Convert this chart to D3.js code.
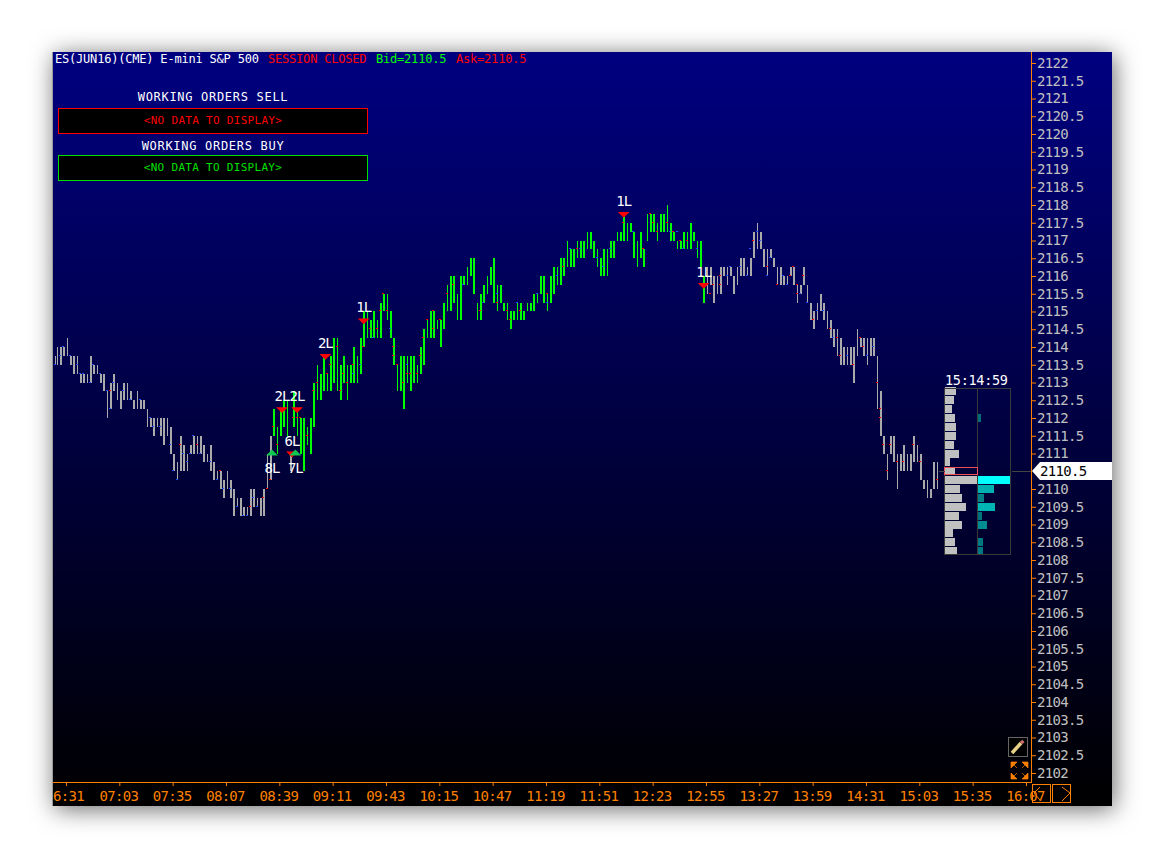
<!DOCTYPE html>
<html>
<head>
<meta charset="utf-8">
<script src="https://cdn.jsdelivr.net/npm/d3@7"></script>
<style>
  html, body { margin: 0; background: #fff; }
  text { font-family: "DejaVu Sans Mono", monospace; }
</style>
</head>
<body>
<div id="graph"></div>
<script>
// 2110.5 is not here, the last price flag covers it
const priceTicks = [2122,2121.5,2121,2120.5,2120,2119.5,2119,2118.5,2118,2117.5,2117,2116.5,2116,2115.5,2115,2114.5,2114,2113.5,2113,2112.5,2112,2111.5,2111,2110,2109.5,2109,2108.5,2108,2107.5,2107,2106.5,2106,2105.5,2105,2104.5,2104,2103.5,2103,2102.5,2102];
const timeLabels = ["6:31","07:03","07:35","08:07","08:39","09:11","09:43","10:15","10:47","11:19","11:51","12:23","12:55","13:27","13:59","14:31","15:03","15:35","16:07"];

// ranges read per minute column, first column is 06:24
const firstMinute = 384;
const barLow = [
2113.5,2113.5,2113.5,2113.5,2113.5,2113.75,2113.75,2113.75,2113.75,2113.5,
2113.5,2113.5,2113.25,2113.25,2113.25,2113,2113,2113,2113,2113.25,
2113,2113,2113.25,2113.25,2113.25,2113.25,2113.25,2113,2113,2113,
2112.75,2112.5,2112,2112.25,2112.75,2112.75,2112.75,2112.75,2112.5,2112.25,
2112.25,2112.5,2112.5,2112.5,2112.5,2112.5,2112.5,2112.5,2112.25,2112.25,
2112.25,2112.25,2112.25,2112.25,2112.25,2112,2111.75,2111.75,2111.75,2111.5,
2111.75,2111.75,2111.75,2111.5,2111.75,2111.25,2111.5,2111.5,2111.5,2111.25,
2111,2110.75,2110.5,2110.5,2110.25,2110.5,2111,2110.75,2110.5,2110.5,
2110.75,2111,2111,2111,2111.25,2111.25,2111,2111,2111,2111,
2110.75,2110.75,2110.75,2110.5,2110.5,2110.5,2110.25,2110.25,2110.25,2110.25,
2110,2109.75,2110,2110,2110,2110,2109.75,2109.75,2109.25,2109.5,
2109.5,2109.5,2109.25,2109.25,2109.25,2109.25,2109.25,2109.25,2109.5,2109.5,
2109.5,2109.5,2109.5,2109.25,2109.5,2109.75,2109.25,2110,2110.25,2110.25,
2111,2111.5,2111.5,2111,2111,2111.5,2111.75,2111.75,2112,2111.5,
2111.5,2110.5,2110.5,2112,2111.75,2111.5,2111.5,2111.25,2111,2110.5,
2111,2111.25,2111.25,2111,2111.25,2111.75,2112.25,2112.5,2112.75,2112.75,
2112.5,2112.75,2112.75,2112.75,2112.75,2112.75,2113.25,2113.25,2113,2113,
2112.75,2112.5,2112.5,2113,2113,2112.5,2112.5,2113,2113,2113,
2113,2113,2113,2113.25,2113.5,2114,2114.25,2114.25,2114.5,2114.25,
2114.25,2114.25,2114.25,2114.25,2114.25,2114.25,2114.75,2115,2115,2114.75,
2115,2114.5,2114.25,2113.75,2113.5,2113,2112.75,2113,2112.75,2112.25,
2113,2113.25,2113,2112.75,2113,2113,2113,2113,2113,2113.25,
2113.5,2113.5,2113.75,2114.25,2114.5,2114.25,2114.25,2114.25,2114.5,2114.5,
2114.5,2114,2114.25,2114.5,2114.75,2115.25,2115,2115,2115.25,2115.25,
2115.25,2115,2114.75,2114.75,2115.5,2115.75,2115.75,2115.75,2115.75,2116,
2116,2115.75,2115.5,2114.75,2115,2115,2114.75,2115.25,2115.5,2115.5,
2115.75,2115.75,2115.75,2115.75,2115.25,2115,2115,2115.25,2115.25,2115,
2115,2115,2114.75,2114.75,2114.5,2114.75,2114.75,2114.75,2115,2115,
2114.75,2114.75,2114.75,2115,2115,2115,2115.25,2115,2115.25,2115.25,
2115.25,2115.5,2115.5,2115.5,2115.25,2115.25,2115,2115.25,2115.5,2115.5,
2115.75,2115.75,2115.75,2115.75,2116,2116,2116.25,2116.25,2116.5,2116.25,
2116.5,2116.5,2116.25,2116.5,2116.5,2116.5,2116.5,2116.5,2116.5,2116.75,
2116.75,2116.75,2116.75,2116.5,2116.75,2116.25,2116.25,2116.25,2116,2116.25,
2116,2116,2116.5,2116.5,2116.5,2116.5,2116.75,2117,2117,2117,
2117,2117,2117,2117,2117,2117.25,2117.25,2116.75,2116.5,2116.5,
2116.25,2116.75,2116.5,2116.5,2116.25,2117,2117.25,2117.25,2117.25,2117.25,
2117.25,2117,2117,2117.25,2117.25,2117.25,2117.25,2117.25,2117.25,2117,
2117,2117,2117,2116.75,2116.75,2116.75,2116.75,2116.75,2116.75,2116.75,
2116.75,2116.75,2116.75,2117,2117,2116.5,2116.75,2116.75,2116.25,2115.5,
2115.25,2115.5,2115.5,2115.75,2115.75,2115.25,2115.75,2115.5,2115.5,2115.5,
2115.75,2116,2116,2115.75,2116,2116,2116,2115.75,2115.5,2115.75,
2116,2116,2116,2116.25,2116,2116,2116,2116,2116.25,2116.5,
2116.5,2116.75,2117.25,2116.75,2116.75,2116.5,2116.25,2116,2116,2116.5,
2116.5,2116.25,2116.25,2116,2115.75,2115.75,2115.75,2115.75,2115.75,2115.75,
2115.75,2116,2116,2116,2115.75,2115.25,2115.25,2115.5,2115.75,2115.75,
2115.75,2115.5,2115.25,2115,2114.75,2114.5,2114.75,2114.75,2115,2115,
2115,2114.75,2114.75,2114.75,2114.5,2114.25,2114.25,2114,2114,2114,
2113.75,2113.5,2113.75,2113.5,2113.5,2113.5,2113.5,2113.5,2113.5,2113.25,
2113,2113.75,2113.75,2114,2114,2113.75,2113.75,2113.5,2113.75,2113.75,
2114,2114,2113.75,2112.5,2112.25,2112,2111.5,2111,2111,2110.75,
2110.25,2111,2111,2111,2110.75,2110,2110.5,2110.5,2110.75,2110.5,
2110.5,2110.75,2110.5,2110.5,2110.75,2110.75,2111,2110.75,2110.75,2110.5,
2110.25,2110,2110,2110,2109.75,2109.75,2109.75,2110.25,2110,2110.25,2110];
const barHigh = [
2113.75,2113.75,2114,2114,2113.75,2114,2114,2114.25,2114,2113.75,
2113.75,2113.75,2113.75,2113.75,2113.5,2113.25,2113.25,2113.25,2113.25,2113.25,
2113.25,2113.25,2113.75,2113.5,2113.5,2113.5,2113.5,2113.25,2113.25,2113.25,
2113,2112.75,2112.5,2112.5,2113,2113,2113.25,2113,2112.75,2112.75,
2112.75,2112.75,2113,2113,2113,2112.75,2112.75,2112.5,2112.5,2112.75,
2112.5,2112.5,2112.5,2112.5,2112.5,2112.25,2112,2112,2112,2112,
2112,2112,2112,2112,2112,2112,2111.75,2111.75,2112,2111.75,
2111.25,2111,2110.75,2110.75,2110.75,2111.5,2111.25,2111.25,2111,2110.75,
2111,2111.25,2111.25,2111.5,2111.5,2111.5,2111.25,2111.25,2111.5,2111.25,
2111,2111,2111,2111,2111.25,2110.75,2110.5,2110.5,2110.5,2110.5,
2110.5,2110.25,2110.25,2110.5,2110.25,2110.25,2110.25,2110,2109.75,2109.75,
2109.75,2109.75,2109.5,2109.5,2109.5,2109.5,2109.5,2109.5,2110,2110,
2109.75,2109.75,2109.75,2109.75,2109.75,2110,2110,2110.75,2111,2111,
2111.5,2112.25,2112,2111.75,2111.75,2112,2112.25,2112.25,2112.5,2112,
2112.5,2111,2111,2112.75,2112.25,2112.25,2112.25,2112,2112,2111.75,
2112,2111.75,2111.75,2111.25,2112,2112.25,2113,2113.25,2113.5,2113.25,
2113,2113.25,2113.75,2113.25,2113.25,2113.75,2113.75,2113.75,2114.25,2114.25,
2113.25,2113.25,2113.5,2113.5,2113.75,2113.25,2113.5,2113.5,2113.5,2114,
2113.75,2113.75,2113.75,2113.75,2114.25,2114.25,2115,2115,2115,2114.75,
2114.75,2115,2114.5,2114.75,2114.75,2114.75,2115.25,2115.25,2115.5,2115.25,
2115.5,2115,2114.5,2114.25,2114.25,2113.5,2113.5,2113.75,2113,2113.25,
2113.75,2113.75,2113.5,2113.75,2113.25,2113.75,2113.5,2113.5,2113.5,2114,
2114,2114,2114.5,2114.5,2114.75,2115,2114.75,2114.75,2115,2114.75,
2114.75,2114.75,2114.75,2114.75,2115.25,2115.75,2115.75,2115.5,2116,2116,
2115.5,2115.5,2115.25,2115.5,2116,2116,2116,2116,2116.25,2116.5,
2116.5,2116.5,2116,2115.25,2115.25,2115.5,2115.5,2115.5,2115.75,2115.75,
2116,2116.25,2116.25,2116.5,2116.5,2115.75,2115.25,2115.75,2115.75,2115.25,
2115.25,2115.25,2115,2115,2114.75,2115,2115,2115.25,2115.25,2115.25,
2115,2115,2115,2115.25,2115.25,2115.25,2115.25,2115.25,2115.5,2115.5,
2115.5,2116,2116,2116,2115.5,2115.5,2115.25,2115.75,2116,2116,
2116.25,2116.25,2116.25,2116,2116.5,2116.5,2116.5,2117,2116.75,2116.75,
2116.75,2116.75,2116.75,2117,2117,2116.75,2117,2117,2116.75,2117.25,
2117.25,2117,2117.25,2117,2117,2116.75,2116.75,2116.5,2116.5,2116.75,
2116.5,2116.5,2116.75,2116.75,2117,2117,2117,2117.25,2117.25,2117.25,
2117.25,2117.5,2117.75,2117.5,2117.5,2117.5,2117.5,2117.25,2117,2117,
2116.75,2117.25,2117.25,2116.75,2116.75,2117.5,2117.75,2117.75,2117.75,2117.75,
2117.5,2117.25,2117.5,2117.5,2117.75,2117.75,2117.5,2118,2117.5,2117.25,
2117.5,2117.25,2117.25,2117,2117,2117,2117,2117,2117.25,2117,
2117.25,2117,2117.5,2117.25,2117.25,2117,2117,2117,2117,2116,
2116,2116.25,2116,2116,2116.25,2115.5,2116,2116,2116,2115.75,
2116.25,2116.25,2116.25,2116.25,2116.25,2116.25,2116.25,2116,2115.75,2116.25,
2116.25,2116.5,2116.5,2116.5,2116.25,2116.25,2116.25,2116.25,2116.5,2117.25,
2117.25,2117.25,2117.5,2117.25,2117.25,2116.75,2116.75,2116.75,2116.25,2116.75,
2116.75,2116.5,2116.5,2116.25,2116,2116.25,2116,2116,2116,2116,
2116,2116.25,2116.25,2116.25,2116,2115.75,2115.75,2115.75,2115.75,2116.25,
2116.25,2115.75,2115.75,2115.25,2115,2114.75,2115,2115.25,2115.25,2115.5,
2115.5,2115.25,2115,2115,2115,2114.75,2114.5,2114.5,2114.25,2114.5,
2114,2113.75,2114.25,2114,2113.75,2114,2114,2114,2114,2114,
2113.5,2114.25,2114.5,2114.25,2114.25,2114.25,2114.25,2113.75,2114.25,2114.25,
2114.25,2114.25,2114,2113.75,2113.25,2112.75,2112,2111.5,2111.5,2111,
2111,2111.5,2111.5,2111.5,2111,2111,2111,2111,2111,2111,
2111.25,2111,2110.75,2111,2111,2111.5,2111.25,2111.25,2111,2111,
2110.5,2110.25,2110.25,2110.25,2110,2110,2110,2110.5,2110.75,2110.75,2110.75];

// bars drawn green, by column number
const greenFrom = 130;
const greenTo = 390;
const grayInGreen = [141];

const redBars = [34,75,85,99,101,117,125,127,129,132,134,143,145,147,151,156,158,163,164,166,169,171,173,176,180,185,187,190,194,196,198,200,204,203,206,210,211,213,218,219,222,224,227,228,231,236,239,255,265,271,274,280,295,305,314,341,357,359,362,368,371,375,380,353,420,427,400,396,399,394,441,450,443,433,445,446,455,465,469,471,483,485,488,480,493,495,496,497,502,500,506,509,515,519,530];
const redPrices = [2112.75,2111.25,2111.25,2110.5,2110,2109.5,2109.75,2110,2110.25,2111.75,2111.25,2112,2112,2112,2111.5,2112.75,2113,2113.25,2113.25,2113.5,2114,2112.75,2113.25,2113,2113.5,2114,2114.75,2114.5,2114.5,2115,2115.5,2115,2114,2113.75,2113.5,2113,2113.25,2113.25,2113.25,2113.75,2114.25,2114.75,2114.5,2115,2114.75,2115.5,2115.75,2115,2115.25,2115,2114.75,2115,2115.5,2116.25,2116.75,2117.5,2117.75,2117.5,2117.25,2117.5,2117.25,2117,2117,2116.75,2117,2116.25,2116,2115.75,2115.75,2115.5,2116,2116,2116.25,2115.75,2115.75,2115.5,2114.75,2114.5,2114.25,2113.75,2114.25,2114,2113.75,2113.5,2113,2112.25,2112,2111.25,2111.25,2110.5,2110.75,2110.75,2111.25,2110.75,2110.25];
const blueBars = [0,3,6,10,13,16,18,21,24,27,31,33,36,42,46,51,57,60,63,69,72,74,77,79,82,84,88,93,98,102,106,110,114,116,119,122,179,183,192,202,212,245,257,265,278,290,296,301,309,316,326,330,334,347,370,373,377,386,403,406,411,415,418,422,424,428,430,437,439,447,452,457,462,468,476,487,491];
const bluePrices = [2113.5,2113.75,2114,2113.75,2113.5,2113.25,2113.25,2113,2113.5,2113.25,2112.75,2112.25,2113,2112.75,2112.5,2112.5,2112,2111.75,2111.75,2111.25,2110.5,2110.25,2111,2110.75,2111,2111.5,2111,2110.75,2110.25,2110,2110,2109.5,2109.25,2109.25,2109.75,2109.5,2113.25,2113.5,2114.25,2114.5,2113.5,2115.75,2115.25,2115.5,2115.25,2115.5,2115.25,2116,2116.75,2116.75,2116.5,2116.25,2116.75,2117.25,2117.25,2117.25,2116.75,2116.75,2116,2116.25,2116.25,2116,2116.75,2117.25,2117,2116,2116.5,2116,2115.75,2115.5,2115.25,2115,2115,2114.25,2113.75,2113.75,2114];

// order fills
const orderBars = [162,136,145,185,142,341,389,130,144];
const orderPrices = [2113.75,2112.25,2112.25,2114.75,2111,2117.75,2115.75,2111,2111];
const orderLabels = ["2L","2L","2L","1L","6L","1L","1L","8L","7L"];
const orderSides = ["sell","sell","sell","sell","sell","sell","sell","buy","buy"];

// volume profile of the session tail
const profilePrices = [2112.75,2112.5,2112.25,2112,2111.75,2111.5,2111.25,2111,2110.75,2110.5,2110.25,2110,2109.75,2109.5,2109.25,2109,2108.75,2108.5,2108.25];
const profileLeft = [11,9,7,10,11,11,9,14,5,10,32,15,17,21,14,17,8,10,12];
const profileRight = [0,0,0,3,0,0,0,0,0,0,33,16,6,17,4,9,0,5,5];

const lastPrice = 2110.5;

const width = 1164, height = 859;
const panelLeft = 53, panelRight = 1112, panelTop = 52, panelBottom = 806;
const axisX = 1032, axisY = 782;
const orange = "#ff8000";

const toMinute = s => { const p = s.split(":"); return +p[0] * 60 + +p[1]; };

const x = d3.scaleLinear().domain([toMinute("06:31"), toMinute("16:07")]).range([66, 1026]);
const y = d3.scaleLinear().domain([2122, 2102]).range([63, 773]);
const volLeft = d3.scaleLinear().domain([0, 32]).range([0, 32]);
const volRight = d3.scaleLinear().domain([0, 33]).range([0, 33]);
const volColor = d3.scaleLinear().domain([3, 17, 33]).range(["#006e78", "#00b4b4", "#00ffff"]);

const svg = d3.select("#graph")
  .append("svg")
    .attr("width", width)
    .attr("height", height)
    .style("display", "block");

const defs = svg.append("defs");
const grad = defs.append("linearGradient")
    .attr("id", "bg").attr("x1", 0).attr("x2", 0).attr("y1", 0).attr("y2", 1);
grad.append("stop").attr("offset", "0%").attr("stop-color", "#000080");
grad.append("stop").attr("offset", "100%").attr("stop-color", "#000000");

svg.append("rect")
    .attr("x", panelLeft).attr("y", panelTop)
    .attr("width", panelRight - panelLeft).attr("height", panelBottom - panelTop)
    .attr("fill", "url(#bg)")
    .style("filter", "drop-shadow(2px 3px 12px rgba(0,0,0,0.6))");
svg.append("rect")
    .attr("x", panelLeft - 1).attr("y", panelTop).attr("width", 1).attr("height", panelBottom - panelTop)
    .attr("fill", "#9a9a9a");

// header line
const header = [
  ["ES(JUN16)(CME) E-mini S&P 500", 55, "#ffffff"],
  ["SESSION CLOSED", 268, "#ff0000"],
  ["Bid=2110.5", 376, "#00ff00"],
  ["Ask=2110.5", 456, "#ff0000"]
];
svg.selectAll(".head")
  .data(header)
  .join("text")
    .attr("x", d => d[1]).attr("y", 63)
    .attr("fill", d => d[2])
    .style("font-size", "12px").style("letter-spacing", "-0.2px")
    .text(d => d[0]);

// working orders boxes
const boxes = [
  ["WORKING ORDERS SELL", 101, 108, "#ff0000"],
  ["WORKING ORDERS BUY", 150, 155, "#00e000"]
];
boxes.forEach(b => {
  svg.append("text")
      .attr("x", 213).attr("y", b[1]).attr("text-anchor", "middle")
      .attr("fill", "#ffffff")
      .style("font-size", "12px").style("letter-spacing", "0.7px")
      .text(b[0]);
  svg.append("rect")
      .attr("x", 58.5).attr("y", b[2] + 0.5).attr("width", 309).attr("height", 25)
      .attr("fill", "#000").attr("stroke", b[3]);
  svg.append("text")
      .attr("x", 213).attr("y", b[2] + 16).attr("text-anchor", "middle")
      .attr("fill", b[3])
      .style("font-size", "11px").style("letter-spacing", "0.3px")
      .text("<NO DATA TO DISPLAY>");
});

// price bars, the chart shows two minute bars so columns go in pairs
const isGreen = i => i >= greenFrom && i <= greenTo && !grayInGreen.includes(i);
const barX = i => Math.floor(x(firstMinute + i)) + 1;
const pairStart = i => i == 0 ? 0 : (i % 2 ? i : i - 1);

const bars = [0].concat(d3.range(1, barLow.length, 2)).map(i => {
  const j = i == 0 ? 0 : Math.min(i + 1, barLow.length - 1);
  return {i, j, low: Math.min(barLow[i], barLow[j]), high: Math.max(barHigh[i], barHigh[j])};
});

svg.append("g")
    .attr("shape-rendering", "crispEdges")
  .selectAll("rect")
  .data(bars)
  .join("rect")
    .attr("x", d => barX(d.i))
    .attr("y", d => Math.round(y(d.high)))
    .attr("width", d => Math.max(1, barX(d.j) - barX(d.i)))
    .attr("height", d => Math.max(1, Math.round(y(d.low)) - Math.round(y(d.high))))
    .attr("fill", d => isGreen(d.i) ? "#00ff00" : "#aaaaaa");

// small open/close ticks on the bars
const marksG = svg.append("g").attr("shape-rendering", "crispEdges");
[[redBars, redPrices, "#ff0000"], [blueBars, bluePrices, "#1e50ff"]].forEach(m => {
  marksG.append("g").selectAll("rect")
    .data(m[0].map((b, i) => ({b: pairStart(b), p: m[1][i]})))
    .join("rect")
      .attr("x", d => barX(d.b) - 1)
      .attr("y", d => Math.round(y(d.p)) - 1)
      .attr("width", 2)
      .attr("height", 1)
      .attr("fill", m[2]);
});

// order triangles and their labels
const tri = d3.symbol().type(d3.symbolTriangle).size(42);
const orders = orderBars.map((b, i) => ({b, p: orderPrices[i], label: orderLabels[i], side: orderSides[i]}));
svg.append("g").selectAll("path")
  .data(orders)
  .join("path")
    .attr("d", tri)
    .attr("transform", d => `translate(${x(firstMinute + d.b) + 1},${y(d.p)})rotate(${d.side == "sell" ? 180 : 0})scale(1.2,0.7)`)
    .attr("fill", d => d.side == "sell" ? "#ff0000" : "#10c850");
svg.append("g").selectAll("text")
  .data(orders)
  .join("text")
    .attr("x", d => x(firstMinute + d.b) + 1)
    .attr("y", d => y(d.p) + (d.side == "sell" ? -8 : 19))
    .attr("text-anchor", "middle")
    .attr("fill", "#ffffff")
    .style("font-size", "14px").style("letter-spacing", "-1px")
    .text(d => d.label);

// volume profile
const rowH = 8;
svg.append("g").attr("shape-rendering", "crispEdges").selectAll("rect")
  .data(profilePrices.map((p, i) => ({p, v: profileLeft[i]})))
  .join("rect")
    .attr("x", 945)
    .attr("y", d => Math.round(y(d.p)) - rowH / 2)
    .attr("width", d => volLeft(d.v))
    .attr("height", rowH)
    .attr("fill", "#c0c0c0");
svg.append("g").attr("shape-rendering", "crispEdges").selectAll("rect")
  .data(profilePrices.map((p, i) => ({p, v: profileRight[i]})).filter(d => d.v > 0))
  .join("rect")
    .attr("x", 978)
    .attr("y", d => Math.round(y(d.p)) - rowH / 2)
    .attr("width", d => volRight(d.v))
    .attr("height", rowH)
    .attr("fill", d => volColor(d.v));
svg.append("rect")
    .attr("x", 944.5).attr("y", 388.5).attr("width", 66).attr("height", 166)
    .attr("fill", "none").attr("stroke", "#3a3a3a");
svg.append("line")
    .attr("x1", 977.5).attr("x2", 977.5).attr("y1", 388).attr("y2", 554)
    .attr("stroke", "#3a3a3a");
svg.append("rect")
    .attr("x", 944.5).attr("y", Math.round(y(lastPrice)) - 3.5).attr("width", 33).attr("height", 7)
    .attr("fill", "none").attr("stroke", "#f05050");
svg.append("text")
    .attr("x", 945).attr("y", 385)
    .attr("fill", "#ffffff")
    .style("font-size", "13.5px").style("letter-spacing", "-0.3px")
    .text("15:14:59");
svg.append("line")
    .attr("x1", 1012).attr("x2", axisX)
    .attr("y1", Math.round(y(lastPrice)) + 0.5).attr("y2", Math.round(y(lastPrice)) + 0.5)
    .attr("stroke", "#444");
svg.append("line")
    .attr("x1", 939).attr("x2", 945)
    .attr("y1", Math.round(y(lastPrice)) + 0.5).attr("y2", Math.round(y(lastPrice)) + 0.5)
    .attr("stroke", "#444");

// price axis
const yAxis = svg.append("g")
    .attr("transform", `translate(${axisX},0)`)
    .call(d3.axisRight(y).tickValues(priceTicks).tickSize(4).tickPadding(1).tickFormat(d => d));
yAxis.select(".domain").remove();
yAxis.selectAll("line").attr("stroke", orange);
yAxis.selectAll("text")
    .attr("fill", "#c0c0c0")
    .style("font-family", '"DejaVu Sans Mono", monospace')
    .style("font-size", "14px").style("letter-spacing", "-0.7px");
svg.append("rect")
    .attr("x", axisX - 1).attr("y", panelTop).attr("width", 1).attr("height", axisY - panelTop + 1)
    .attr("fill", orange);

// time axis
const xAxis = svg.append("g")
    .attr("transform", `translate(0,${axisY})`)
    .call(d3.axisBottom(x)
      .tickValues(timeLabels.map(toMinute))
      .tickSize(4).tickPadding(5)
      .tickFormat((d, i) => timeLabels[i]));
xAxis.select(".domain").remove();
xAxis.selectAll("line").attr("stroke", orange);
xAxis.selectAll("text")
    .attr("fill", orange)
    .attr("dx", (d, i) => i == 0 ? 2 : -1)
    .style("font-family", '"DejaVu Sans Mono", monospace')
    .style("font-size", "14px").style("letter-spacing", "-0.7px");
svg.append("rect")
    .attr("x", panelLeft).attr("y", axisY).attr("width", axisX - panelLeft).attr("height", 1)
    .attr("fill", orange);

// last price flag
const flagY = Math.round(y(lastPrice));
svg.append("path")
    .attr("d", `M${axisX},${flagY} L${axisX + 8},${flagY - 9} L${panelRight},${flagY - 9} L${panelRight},${flagY + 9} L${axisX + 8},${flagY + 9} Z`)
    .attr("fill", "#ffffff");
svg.append("text")
    .attr("x", axisX + 8).attr("y", flagY + 5)
    .attr("fill", "#000000")
    .style("font-size", "14px").style("letter-spacing", "-0.7px")
    .text("2110.5");

// scroll buttons under the axis
const arrows = [[1032, "M1040,787 L1034,793 L1040,800"], [1052, "M1062,787 L1070,793 L1062,801"]];
arrows.forEach(a => {
  svg.append("rect")
      .attr("x", a[0] + 0.5).attr("y", 784.5).attr("width", 18).attr("height", 18)
      .attr("fill", "none").attr("stroke", orange);
  svg.append("path").attr("d", a[1]).attr("fill", "none").attr("stroke", orange);
});

// pencil button
svg.append("rect")
    .attr("x", 1008.5).attr("y", 737.5).attr("width", 19).attr("height", 19)
    .attr("fill", "#000").attr("stroke", "#666");
svg.append("line")
    .attr("x1", 1012).attr("y1", 753).attr("x2", 1021).attr("y2", 743)
    .attr("stroke", "#e6cf86").attr("stroke-width", 3.5);
svg.append("line")
    .attr("x1", 1021).attr("y1", 743).attr("x2", 1023.5).attr("y2", 741)
    .attr("stroke", "#d06a6a").attr("stroke-width", 3.5);

// expand icon
const corners = [
  "M1011,762 L1017,762 L1011,768 Z M1017,768 L1011,762",
  "M1028,762 L1022,762 L1028,768 Z M1022,768 L1028,762",
  "M1011,779 L1017,779 L1011,773 Z M1017,773 L1011,779",
  "M1028,779 L1022,779 L1028,773 Z M1022,773 L1028,779"
];
svg.append("g").selectAll("path")
  .data(corners)
  .join("path")
    .attr("d", d => d)
    .attr("fill", orange)
    .attr("stroke", orange)
    .attr("stroke-width", 0.7);
</script>
</body>
</html>
